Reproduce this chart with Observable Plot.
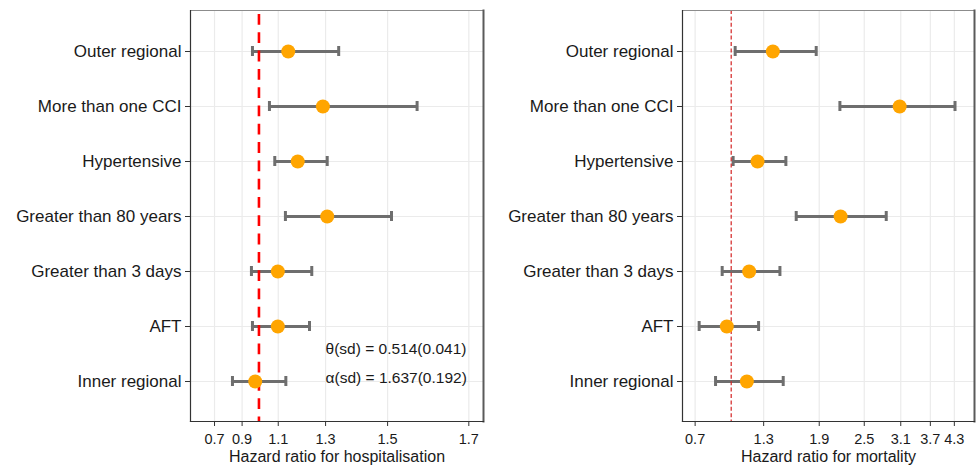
<!DOCTYPE html>
<html><head><meta charset="utf-8">
<script src="https://cdn.jsdelivr.net/npm/d3@7"></script>
<script src="https://cdn.jsdelivr.net/npm/@observablehq/plot@0.6"></script>
<style>
body{margin:0;background:#fff;}
#wrap{display:flex;width:977px;height:470px;overflow:hidden;}
#wrap svg{display:block;flex:none;}
</style></head><body><div id="wrap"></div>
<script>
// ---- data ----
const categories = ["Outer regional","More than one CCI","Hypertensive","Greater than 80 years","Greater than 3 days","AFT","Inner regional"];

const hospHR   = [1.147, 1.290, 1.189, 1.306, 1.098, 1.098, 0.979];
const hospLow  = [0.963, 1.056, 1.083, 1.134, 0.957, 0.963, 0.836];
const hospHigh = [1.347, 1.579, 1.306, 1.511, 1.247, 1.238, 1.136];

const mortHR   = [1.391, 3.080, 1.241, 2.169, 1.162, 0.962, 1.141];
const mortLow  = [1.035, 2.160, 1.017, 1.636, 0.922, 0.732, 0.866];
const mortHigh = [1.864, 4.319, 1.525, 2.846, 1.463, 1.251, 1.497];

const hospTicks = [0.7, 0.9, 1.1, 1.3, 1.5, 1.7];
const hospTickLabels = ["0.7", "0.9", "1.1", "1.3", "1.5", "1.7"];
const mortTicks = [0.7, 1.3, 1.9, 2.5, 3.1, 3.7, 4.3];
const mortTickLabels = ["0.7", "1.3", "1.9", "2.5", "3.1", "3.7", "4.3"];

const referenceHR = 1;
const hospAnnotations = ["θ(sd) = 0.514(0.041)", "α(sd) = 1.637(0.192)"];
const hospAnnotationX = 1.3;
const hospXLabel = "Hazard ratio for hospitalisation";
const mortXLabel = "Hazard ratio for mortality";

// axis warps matching the reference's non-uniform tick spacing
const hospWarp = v => Math.exp(1.35 * v);
const mortWarp = v => -Math.exp(-0.35 * v);

const FONT = "'Liberation Sans', Arial, Helvetica, sans-serif";

function panel({width, marginLeft, marginRight, hr, low, high, ticks, tickLabels, warp, domain, xlabel, refMark, extra = []}) {
  const rows = categories.map((c, i) => ({cat: c, hr: hr[i], low: low[i], high: high[i]}));
  const tT = ticks.map(warp);
  const labelOf = new Map(tT.map((t, i) => [t, tickLabels[i]]));
  return Plot.plot({
    width, height: 470, marginLeft, marginRight, marginTop: 10, marginBottom: 49,
    style: {fontFamily: FONT, background: "white", color: "#1a1a1a", overflow: "visible"},
    x: {type: "linear", domain: domain.map(warp), axis: null},
    y: {type: "band", domain: categories, paddingInner: 0.8203, paddingOuter: 0.602, axis: null},
    marks: [
      Plot.gridX(tT, {stroke: "#ebebeb", strokeOpacity: 1, strokeWidth: 1.2}),
      Plot.gridY(categories, {stroke: "#ebebeb", strokeOpacity: 1, strokeWidth: 1.2}),
      Plot.ruleY(rows, {y: "cat", x1: d => warp(d.low), x2: d => warp(d.high), stroke: "#6e6e6e", strokeWidth: 3}),
      Plot.tickX(rows, {x: d => warp(d.low), y: "cat", stroke: "#6e6e6e", strokeWidth: 3}),
      Plot.tickX(rows, {x: d => warp(d.high), y: "cat", stroke: "#6e6e6e", strokeWidth: 3}),
      Plot.ruleX([warp(referenceHR)], refMark),
      Plot.dot(rows, {x: d => warp(d.hr), y: "cat", r: 7, fill: "orange", stroke: "none"}),
      ...extra.map(f => f(warp)),
      Plot.frame({stroke: "#8c8c8c", strokeWidth: 1}),
      Plot.frame({anchor: "right", stroke: "#5a5a5a", strokeWidth: 2}),
      Plot.frame({anchor: "left", stroke: "#333", strokeWidth: 1.2}),
      Plot.frame({anchor: "bottom", stroke: "#333", strokeWidth: 1.2}),
      Plot.axisY({tickSize: 5, tickPadding: 4, fontSize: 17, label: null, stroke: "#333"}),
      Plot.axisX(tT, {tickSize: 5, tickPadding: 7.5, fontSize: 14.5, label: null, stroke: "#333", tickFormat: d => labelOf.get(d)}),
      Plot.text([xlabel], {frameAnchor: "bottom", lineAnchor: "bottom", dy: 40, fontSize: 16, fill: "#1a1a1a"})
    ]
  });
}

const left = panel({
  width: 488, marginLeft: 190, marginRight: 5,
  hr: hospHR, low: hospLow, high: hospHigh,
  ticks: hospTicks, tickLabels: hospTickLabels, warp: hospWarp,
  domain: [0.467, 1.731], xlabel: hospXLabel,
  refMark: {stroke: "red", strokeWidth: 2.6, strokeDasharray: "10.8,7.5", strokeDashoffset: 14.3},
  extra: [
    w => Plot.text([hospAnnotations[0]], {x: () => w(hospAnnotationX), y: () => "Inner regional", dy: -32.3, textAnchor: "start", fontSize: 15.5, fill: "#1a1a1a"}),
    w => Plot.text([hospAnnotations[1]], {x: () => w(hospAnnotationX), y: () => "Inner regional", dy: -3.3, textAnchor: "start", fontSize: 15.5, fill: "#1a1a1a"})
  ]
});

const right = panel({
  width: 489, marginLeft: 194, marginRight: 3,
  hr: mortHR, low: mortLow, high: mortHigh,
  ticks: mortTicks, tickLabels: mortTickLabels, warp: mortWarp,
  domain: [0.602, 4.925], xlabel: mortXLabel,
  refMark: {stroke: "#d42424", strokeWidth: 1.2, strokeDasharray: "4,2.4"}
});

document.getElementById("wrap").append(left, right);
</script>
</body></html>
